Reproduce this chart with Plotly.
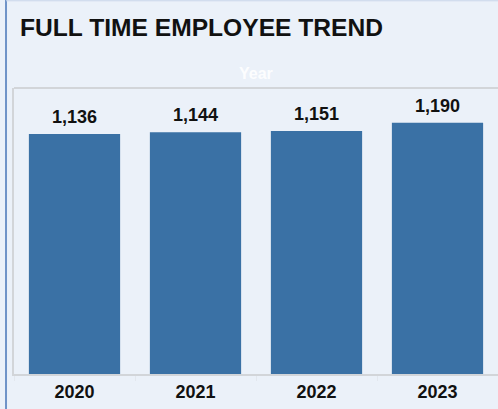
import plotly.graph_objects as go

# Headcount by year
years = ["2020", "2021", "2022", "2023"]
employees = [1136, 1144, 1151, 1190]

BG = "#ebf1f9"
BAR = "#3a71a5"
FRAME = "#d2d5d9"
FONT = "Liberation Sans, Arial"

fig = go.Figure(
    go.Bar(
        x=years,
        y=employees,
        marker=dict(color=BAR, line=dict(width=0)),
        hoverinfo="skip",
    )
)

# Value labels sitting above each bar (category index positions)
for i, val in enumerate(employees):
    fig.add_annotation(
        x=i, y=val, xref="x", yref="y",
        text=f"{val:,}", showarrow=False,
        yanchor="bottom", yshift=5,
        font=dict(family=FONT, size=18, color="#111111", weight="bold"),
    )

# Faint axis caption above the chart area
fig.add_annotation(
    x=0.5, y=1.052, xref="paper", yref="paper",
    text="Year", showarrow=False, yanchor="middle",
    font=dict(family=FONT, size=16, color="rgba(255,255,255,0.9)", weight="bold"),
)

# Chart title
fig.add_annotation(
    x=0.008, y=1.213, xref="paper", yref="paper",
    text="FULL TIME EMPLOYEE TREND", showarrow=False,
    xanchor="left", yanchor="middle",
    font=dict(family=FONT, size=24.6, color="#111111", weight="bold"),
)

# Plot-area frame (top edge) and outer panel borders
fig.add_shape(type="line", xref="paper", yref="paper", x0=0, x1=1.02, y0=1, y1=1,
              line=dict(color=FRAME, width=2))
fig.add_shape(type="line", xref="paper", yref="paper", x0=-0.0165, x1=-0.0165, y0=-0.2, y1=1.35,
              line=dict(color="#6f93c8", width=2))
fig.add_shape(type="line", xref="paper", yref="paper", x0=-0.0165, x1=1.05, y0=1.305, y1=1.305,
              line=dict(color="#c9d7ea", width=1))

fig.update_layout(
    width=498, height=409,
    margin=dict(l=14, r=0, t=88, b=35),
    paper_bgcolor=BG, plot_bgcolor=BG,
    bargap=0.246,
    showlegend=False,
    xaxis=dict(
        type="category", range=[-0.5, len(years) - 0.5],
        showline=True, linecolor=FRAME, linewidth=2,
        ticks="outside", tickson="boundaries", ticklen=5, tickcolor="#e2e7ee", tickwidth=1,
        tickfont=dict(family=FONT, size=18, color="#111111", weight="bold"),
        tickangle=0,
        showgrid=False, zeroline=False, fixedrange=True,
    ),
    yaxis=dict(
        range=[0, 1354],
        showline=True, linecolor=FRAME, linewidth=2,
        showticklabels=False, ticks="", showgrid=False, zeroline=False, fixedrange=True,
    ),
)

fig.write_html("out.html")
